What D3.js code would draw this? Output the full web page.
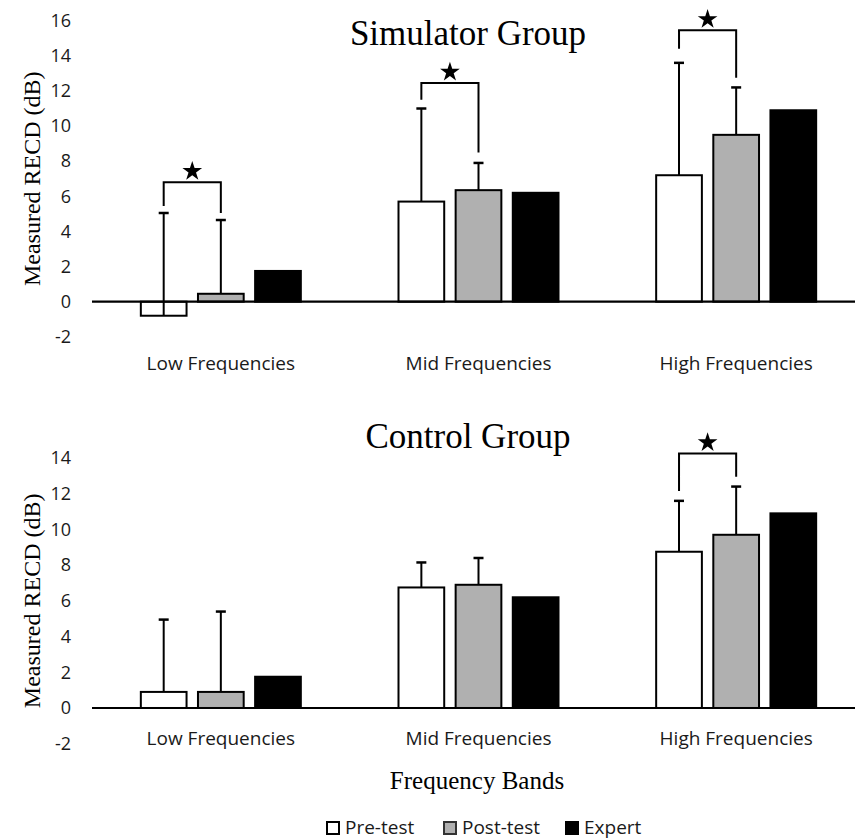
<!DOCTYPE html>
<html>
<head>
<meta charset="utf-8">
<script src="https://cdn.jsdelivr.net/npm/d3@7"></script>
<style>
  body { margin: 0; background: #fff; }
  svg { display: block; }
</style>
</head>
<body>
<div id="chart"></div>
<script>
// Categories and series
const categories = ["Low Frequencies", "Mid Frequencies", "High Frequencies"];
const series = ["Pre-test", "Post-test", "Expert"];
const fills = ["#ffffff", "#b0b0b0", "#000000"];

// Simulator group (means and +SD)
const simPre = [-0.8, 5.7, 7.2];
const simPost = [0.45, 6.35, 9.5];
const simExpert = [1.75, 6.2, 10.9];
const simPreErr = [5.85, 5.3, 6.4];
const simPostErr = [4.2, 1.55, 2.7];

// Control group (means and +SD)
const ctrlPre = [0.9, 6.75, 8.75];
const ctrlPost = [0.9, 6.9, 9.7];
const ctrlExpert = [1.75, 6.2, 10.9];
const ctrlPreErr = [4.05, 1.4, 2.85];
const ctrlPostErr = [4.5, 1.5, 2.7];

// Significance brackets (pre vs post)
const simBracketCats = ["Low Frequencies", "Mid Frequencies", "High Frequencies"];
const simBracketLeft = [5.45, 11.5, 14.4];
const simBracketTop = [6.8, 12.45, 15.45];
const simBracketRight = [5.05, 8.5, 12.75];
const ctrlBracketCats = ["High Frequencies"];
const ctrlBracketLeft = [12.15];
const ctrlBracketTop = [14.25];
const ctrlBracketRight = [12.95];

// Tick values
const simTicks = [-2, 0, 2, 4, 6, 8, 10, 12, 14, 16];
const ctrlTicks = [-2, 0, 2, 4, 6, 8, 10, 12, 14];

const width = 855, height = 840;
const sansFont = "'Open Sans', 'Noto Sans', sans-serif";
const serifFont = "'Liberation Serif', 'Times New Roman', serif";

const svg = d3.select("#chart")
    .append("svg")
    .attr("width", width)
    .attr("height", height);

// shared x scales
const x0 = d3.scaleBand()
    .domain(categories)
    .range([92, 865]);

const x1 = d3.scaleBand()
    .domain(series)
    .range([x0.bandwidth() / 2 - 80, x0.bandwidth() / 2 + 80])
    .paddingInner(0.2);

function drawPanel(opt) {
    const y = d3.scaleLinear()
        .domain(opt.domain)
        .range(opt.range);

    const g = svg.append("g");

    // rows of bar data
    const rows = [];
    categories.forEach((c, i) => {
        series.forEach((s, j) => {
            rows.push({ cat: c, ser: s, idx: j, value: opt.values[j][i], err: opt.errs[j] ? opt.errs[j][i] : null });
        });
    });

    // y tick labels (plain hyphen minus like the original)
    g.append("g")
        .attr("transform", `translate(74,0)`)
        .call(d3.axisLeft(y).tickValues(opt.ticks).tickFormat(d => String(d)).tickSize(0).tickPadding(3))
        .call(a => a.select(".domain").remove())
        .selectAll("text")
        .style("font-family", sansFont)
        .style("font-size", "18px")
        .attr("fill", "#1a1a1a");

    // bars
    g.selectAll(".bar")
        .data(rows)
        .enter().append("rect")
        .attr("class", "bar")
        .attr("x", d => x0(d.cat) + x1(d.ser))
        .attr("y", d => y(Math.max(0, d.value)))
        .attr("width", x1.bandwidth())
        .attr("height", d => Math.abs(y(d.value) - y(0)))
        .attr("fill", d => fills[d.idx])
        .attr("stroke", "#000")
        .attr("stroke-width", 2);

    // zero line
    g.append("line")
        .attr("x1", 92)
        .attr("x2", width)
        .attr("y1", y(0))
        .attr("y2", y(0))
        .attr("stroke", "#000")
        .attr("stroke-width", 2.2);

    // error bars (plus direction only)
    const errRows = rows.filter(d => d.err != null);
    const cx = d => x0(d.cat) + x1(d.ser) + x1.bandwidth() / 2;
    g.selectAll(".err")
        .data(errRows)
        .enter().append("line")
        .attr("x1", cx)
        .attr("x2", cx)
        .attr("y1", d => y(d.value))
        .attr("y2", d => y(d.value + d.err))
        .attr("stroke", "#000")
        .attr("stroke-width", 2);
    g.selectAll(".cap")
        .data(errRows)
        .enter().append("line")
        .attr("x1", d => cx(d) - 5)
        .attr("x2", d => cx(d) + 5)
        .attr("y1", d => y(d.value + d.err))
        .attr("y2", d => y(d.value + d.err))
        .attr("stroke", "#000")
        .attr("stroke-width", 2.5);

    // brackets with stars
    opt.bracketCats.forEach((c, i) => {
        const xl = x0(c) + x1("Pre-test") + x1.bandwidth() / 2;
        const xr = x0(c) + x1("Post-test") + x1.bandwidth() / 2;
        const path = d3.path();
        path.moveTo(xl, y(opt.bracketLeft[i]));
        path.lineTo(xl, y(opt.bracketTop[i]));
        path.lineTo(xr, y(opt.bracketTop[i]));
        path.lineTo(xr, y(opt.bracketRight[i]));
        g.append("path")
            .attr("d", path.toString())
            .attr("fill", "none")
            .attr("stroke", "#000")
            .attr("stroke-width", 2);
        g.append("path")
            .attr("d", d3.symbol().type(d3.symbolStar).size(120)())
            .attr("transform", `translate(${(xl + xr) / 2},${y(opt.bracketTop[i]) - 11})`)
            .attr("fill", "#000");
    });

    // category labels
    g.selectAll(".cat")
        .data(categories)
        .enter().append("text")
        .attr("x", d => x0(d) + x0.bandwidth() / 2)
        .attr("y", opt.catY)
        .attr("text-anchor", "middle")
        .style("font-family", sansFont)
        .style("font-size", "19px")
        .attr("fill", "#1a1a1a")
        .text(d => d);

    // panel title
    g.append("text")
        .attr("x", 468)
        .attr("y", opt.titleY)
        .attr("text-anchor", "middle")
        .style("font-family", serifFont)
        .style("font-size", "35px")
        .attr("fill", "#000")
        .text(opt.title);

    // y axis title
    const yMid = (opt.range[0] + opt.range[1]) / 2;
    g.append("text")
        .attr("transform", `translate(40,${yMid}) rotate(-90)`)
        .attr("text-anchor", "middle")
        .style("font-family", serifFont)
        .style("font-size", "24px")
        .attr("fill", "#000")
        .text("Measured RECD (dB)");
}

drawPanel({
    title: "Simulator Group",
    titleY: 45,
    domain: [-2, 16],
    range: [336.8, 20.7],
    ticks: simTicks,
    values: [simPre, simPost, simExpert],
    errs: [simPreErr, simPostErr, null],
    bracketCats: simBracketCats,
    bracketLeft: simBracketLeft,
    bracketTop: simBracketTop,
    bracketRight: simBracketRight,
    catY: 370
});

drawPanel({
    title: "Control Group",
    titleY: 448,
    domain: [-2, 14],
    range: [743.7, 458],
    ticks: ctrlTicks,
    values: [ctrlPre, ctrlPost, ctrlExpert],
    errs: [ctrlPreErr, ctrlPostErr, null],
    bracketCats: ctrlBracketCats,
    bracketLeft: ctrlBracketLeft,
    bracketTop: ctrlBracketTop,
    bracketRight: ctrlBracketRight,
    catY: 745
});

// x axis title
svg.append("text")
    .attr("x", 477)
    .attr("y", 789)
    .attr("text-anchor", "middle")
    .style("font-family", serifFont)
    .style("font-size", "25px")
    .attr("fill", "#000")
    .text("Frequency Bands");

// legend
const legendX = [326, 443, 565];
const legend = svg.append("g");
series.forEach((s, i) => {
    legend.append("rect")
        .attr("x", legendX[i] + 1)
        .attr("y", 822)
        .attr("width", 12)
        .attr("height", 12)
        .attr("fill", fills[i])
        .attr("stroke", i === 1 ? "#333" : "#000")
        .attr("stroke-width", 2);
    legend.append("text")
        .attr("x", legendX[i] + 19)
        .attr("y", 834)
        .style("font-family", sansFont)
        .style("font-size", "19px")
        .attr("fill", "#1a1a1a")
        .text(s);
});
</script>
</body>
</html>
